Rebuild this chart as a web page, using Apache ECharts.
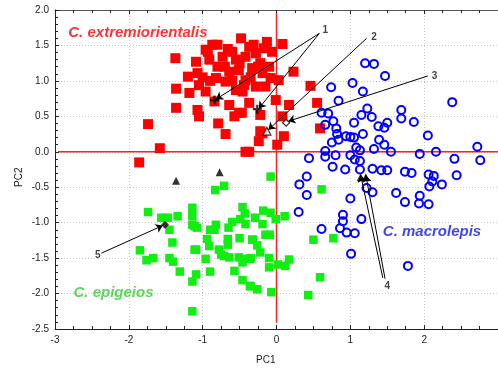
<!DOCTYPE html>
<html>
<head>
<meta charset="utf-8">
<script src="https://cdn.jsdelivr.net/npm/echarts@6/dist/echarts.min.js"></script>
<style>
  html, body { margin: 0; padding: 0; background: #fff; }
  #PcaChart { width: 498px; height: 369px; }
</style>
</head>
<body>
<div id="PcaChart"></div>
<script>
// C. extremiorientalis (red squares)
const redPoints = [
  [-1.37,1.32],[-1.36,0.89],[-1.36,0.62],[-1.74,0.39],[-1.58,0.05],[-1.86,-0.15],
  [-1.20,1.06],[-1.18,0.83],[-1.09,1.27],[-1.07,1.11],[-1.05,0.94],[-1.07,0.59],[-1.05,0.50],
  [-0.93,1.41],[-0.91,1.30],[-0.96,0.85],[-0.80,1.51],[-0.79,0.40],[-0.69,0.25],[-0.64,0.66],
  [-0.84,0.71],[-0.73,1.34],[-0.80,1.20],[-0.82,1.04],[-0.69,0.99],[-0.60,1.41],[-0.55,1.30],
  [-0.48,1.60],[-0.51,1.15],[-0.64,1.13],[-0.55,0.87],[-0.44,0.94],[-0.37,1.48],[-0.42,1.34],
  [-0.31,1.51],[-0.28,1.39],[-0.22,1.25],[-0.13,1.55],[-0.06,1.41],[0.08,1.52],[-0.17,1.46],
  [-0.33,1.18],[-0.19,1.11],[-0.10,1.20],[-0.08,1.04],[-0.42,1.01],[-0.28,0.92],[-0.15,0.92],
  [-0.46,0.85],[-0.37,0.69],[-0.51,0.55],[-0.57,0.50],[-0.22,0.52],[-0.01,0.73],[-0.22,0.29],
  [-0.24,0.15],[-0.37,0.00],[0.01,0.10],[0.10,0.22],[-0.87,1.51],[-0.96,1.44],[-0.47,0.55],
  [-0.42,0.00],[0.23,1.13],[0.03,1.01],[0.46,0.93],[0.55,0.69],[0.17,0.66],[0.08,0.50],
  [0.59,0.33],[-0.19,0.26],[-0.66,1.45],[-0.90,1.00],[-0.50,1.25],[-0.35,1.05],[-0.60,1.00],
  [-0.25,1.20],[-0.70,1.20],[-1.00,1.05]
];
// C. macrolepis (blue open circles)
const bluePoints = [
  [1.20,1.25],[1.32,1.24],[1.47,1.07],[0.74,0.91],[1.03,0.97],[1.17,0.85],[0.84,0.72],[2.38,0.70],
  [0.61,0.55],[0.70,0.54],[1.23,0.61],[1.15,0.52],[1.29,0.49],[1.69,0.59],[1.69,0.47],[1.86,0.42],
  [1.50,0.41],[1.38,0.36],[1.46,0.34],[0.77,0.43],[0.66,0.38],[0.81,0.33],[1.05,0.41],[0.82,0.25],
  [0.94,0.22],[1.00,0.21],[1.05,0.20],[1.17,0.25],[0.84,0.17],[0.75,0.13],[1.39,0.17],[1.46,0.10],
  [1.32,0.04],[1.08,0.06],[1.13,0.02],[1.55,0.00],[2.05,0.23],[1.94,-0.03],[2.16,0.00],[2.72,0.07],
  [2.76,-0.12],[2.41,-0.10],[0.66,0.01],[0.44,-0.09],[0.66,-0.07],[0.80,-0.05],[1.00,-0.05],[1.06,-0.11],
  [1.13,-0.13],[1.30,-0.24],[1.42,-0.26],[1.50,-0.26],[1.74,-0.28],[1.83,-0.30],[0.76,-0.21],[0.93,-0.25],
  [1.13,-0.25],[2.06,-0.32],[2.13,-0.34],[2.44,-0.33],[0.41,-0.35],[0.31,-0.46],[0.41,-0.61],[1.00,-0.66],
  [1.22,-0.51],[1.30,-0.57],[1.62,-0.58],[1.74,-0.71],[1.94,-0.62],[1.93,-0.73],[2.06,-0.74],[2.07,-0.49],
  [2.24,-0.46],[2.11,-0.42],[0.30,-0.85],[0.90,-0.89],[0.90,-0.98],[1.15,-0.95],[0.61,-1.09],[0.86,-1.08],
  [0.95,-1.14],[1.06,-1.15],[1.01,-1.44],[1.78,-1.61]
];
// C. epigeios (green squares)
const greenPoints = [
  [-1.74,-0.85],[-1.56,-0.93],[-1.47,-0.93],[-1.34,-0.91],[-1.45,-1.10],[-1.41,-1.28],[-1.85,-1.39],
  [-1.76,-1.53],[-1.67,-1.50],[-1.45,-1.50],[-1.40,-1.55],[-1.31,-1.69],[-1.14,-0.79],[-1.14,-0.91],
  [-1.14,-1.03],[-1.08,-1.07],[-1.09,-1.38],[-1.09,-1.73],[-1.14,-1.83],[-1.14,-2.25],[-0.96,-1.51],
  [-0.90,-1.69],[-0.83,-0.54],[-0.71,-0.48],[-0.82,-1.03],[-0.84,-1.10],[-0.08,-0.35],[-0.46,-0.78],
  [-0.43,-0.87],[-0.49,-0.95],[-0.29,-0.93],[-0.18,-0.83],[-0.08,-0.86],[-0.01,-0.95],[0.11,-0.91],
  [-0.19,-1.02],[-0.42,-1.02],[-0.60,-0.99],[-0.65,-1.07],[-0.94,-1.23],[-0.91,-1.33],[-0.66,-1.23],
  [-0.66,-1.31],[-0.50,-1.22],[-0.33,-1.24],[-0.26,-1.32],[-0.22,-1.42],[-0.15,-1.17],[-0.09,-1.17],
  [-0.78,-1.38],[-0.75,-1.45],[-0.71,-1.47],[-0.64,-1.49],[-0.51,-1.49],[-0.44,-1.51],[-0.36,-1.51],
  [-0.46,-1.56],[-0.10,-1.50],[-0.10,-1.63],[0.02,-1.59],[0.12,-1.61],[0.17,-1.52],[-0.57,-1.68],
  [-0.46,-1.81],[-0.36,-1.89],[-0.26,-1.94],[-0.07,-1.98],[-1.11,-1.38],[0.61,-0.53],[0.50,-1.24],
  [0.77,-1.22],[-0.32,-1.24],[-0.35,-1.50],[0.59,-1.77],[-0.35,-1.90],[0.43,-2.02],[-1.11,-1.05],
  [-0.90,-1.10]
];
// special samples
const blackTriangles = [[-1.36,-0.41],[-0.77,-0.29],[1.14,-0.36],[1.21,-0.36]];
const crossPoints = [[-0.84,0.73],[-0.26,0.60]];
const openTriangle = [[-0.13,0.29]];
const openDiamond = [[0.13,0.41]];
const blackDiamond = [[-1.51,-1.03]];

// arrows: [from, to]
const arrows = [
  [[0.58,1.67],[-0.82,0.74]],
  [[0.58,1.67],[-0.24,0.61]],
  [[1.22,1.60],[-0.11,0.31]],
  [[2.05,1.07],[0.16,0.43]],
  [[1.44,-1.78],[1.14,-0.33]],
  [[1.47,-1.79],[1.21,-0.33]],
  [[-2.37,-1.43],[-1.54,-1.04]]
];
const arrowLabels = [
  { name: "1", value: [0.66,1.71] },
  { name: "2", value: [1.32,1.61] },
  { name: "3", value: [2.14,1.07] },
  { name: "4", value: [1.50,-1.90] },
  { name: "5", value: [-2.42,-1.46] }
];
const groupLabels = [
  { name: "C. extremiorientalis", value: [-2.82,1.68], color: "#ff0000" },
  { name: "C. epigeios", value: [-2.75,-1.99], color: "#33cc33" },
  { name: "C. macrolepis", value: [1.44,-1.13], color: "#1414e6" }
];
const refLineV = [[0,-2.41],[0,1.96]];
const refLineH = [[-2.96,0],[3,0]];

const myChart = echarts.init(document.getElementById("PcaChart"));

const axisFont = { color: "#222", fontSize: 10, fontFamily: "Liberation Sans, Arial, sans-serif" };
const xBase = {
  type: "value",
  min: -3,
  max: 3,
  interval: 1,
  axisLine: { show: true, onZero: false, lineStyle: { color: "#222", width: 1 } },
  axisTick: { show: true, inside: true, length: 4, lineStyle: { color: "#222" } },
  minorTick: { show: true, splitNumber: 4, length: 3, lineStyle: { color: "#222" } },
  splitLine: { show: false }
};

const option = {
  animation: false,
  backgroundColor: "#fff",
  grid: { left: 55, right: -3, top: 10, bottom: 40, containLabel: false },
  xAxis: [
    Object.assign({}, xBase, {
      position: "bottom",
      axisLabel: Object.assign({ margin: 6, showMaxLabel: false }, axisFont),
      splitLine: { show: true, lineStyle: { color: "#c8c8c8", type: [1, 2], width: 1 } }
    }),
    Object.assign({}, xBase, {
      position: "top",
      axisLine: { show: true, onZero: false, lineStyle: { color: "#555", width: 1 } },
      axisLabel: { show: false }
    })
  ],
  yAxis: {
    type: "value",
    min: -2.5,
    max: 2,
    interval: 0.5,
    axisLine: { show: true, onZero: false, lineStyle: { color: "#222", width: 1 } },
    axisTick: { show: true, inside: true, length: 4, lineStyle: { color: "#222" } },
    minorTick: { show: true, splitNumber: 5, length: 3, lineStyle: { color: "#222" } },
    axisLabel: Object.assign({ margin: 6, formatter: (v) => v.toFixed(1) }, axisFont),
    splitLine: { show: true, lineStyle: { color: "#c8c8c8", type: [1, 2], width: 1 } }
  },
  graphic: [
    {
      type: "text",
      left: 256,
      top: 355,
      style: { text: "PC1", fill: "#222", font: "10px Liberation Sans, Arial, sans-serif" }
    },
    {
      type: "text",
      x: 14,
      y: 187,
      rotation: Math.PI / 2,
      style: { text: "PC2", fill: "#222", font: "10px Liberation Sans, Arial, sans-serif" }
    }
  ],
  series: [
    {
      type: "line",
      data: refLineV,
      symbol: "none",
      silent: true,
      z: 1,
      lineStyle: { color: "#ff2020", width: 1.5 }
    },
    {
      type: "line",
      data: refLineH,
      symbol: "none",
      silent: true,
      z: 1,
      lineStyle: { color: "#ff2020", width: 1.5 }
    },
    {
      name: "C. extremiorientalis",
      type: "scatter",
      data: redPoints,
      symbol: "rect",
      symbolSize: 10,
      itemStyle: { color: "#ff0000", opacity: 1 },
      z: 2
    },
    {
      name: "C. epigeios",
      type: "scatter",
      data: greenPoints,
      symbol: "rect",
      symbolSize: 8.5,
      itemStyle: { color: "#11ee11", opacity: 1 },
      z: 2
    },
    {
      name: "C. macrolepis",
      type: "scatter",
      data: bluePoints,
      symbol: "circle",
      symbolSize: 8,
      itemStyle: { color: "rgba(0,0,0,0)", borderColor: "#0000ff", borderWidth: 2, opacity: 1 },
      z: 3
    },
    {
      type: "scatter",
      data: blackTriangles,
      symbol: "triangle",
      symbolSize: 8,
      itemStyle: { color: "#000" },
      z: 5
    },
    {
      type: "scatter",
      data: crossPoints,
      symbol: "path://M3,0H5V3H8V5H5V8H3V5H0V3H3Z",
      symbolSize: 9,
      itemStyle: { color: "#000" },
      z: 5
    },
    {
      type: "scatter",
      data: openTriangle,
      symbol: "triangle",
      symbolSize: 8,
      itemStyle: { color: "#fff", borderColor: "#000", borderWidth: 1.2 },
      z: 5
    },
    {
      type: "scatter",
      data: openDiamond,
      symbol: "diamond",
      symbolSize: 7,
      itemStyle: { color: "#fff", borderColor: "#000", borderWidth: 1.2 },
      z: 5
    },
    {
      type: "scatter",
      data: blackDiamond,
      symbol: "diamond",
      symbolSize: 8,
      itemStyle: { color: "#000" },
      z: 5
    },
    {
      type: "scatter",
      data: [],
      z: 6,
      markLine: {
        silent: true,
        animation: false,
        symbol: ["none", "arrow"],
        symbolSize: 7,
        label: { show: false },
        lineStyle: { color: "#000", width: 1, type: "solid" },
        data: arrows.map((a) => [{ coord: a[0] }, { coord: a[1] }])
      }
    },
    {
      type: "scatter",
      data: arrowLabels,
      symbolSize: 0,
      z: 7,
      label: {
        show: true,
        position: "inside",
        formatter: "{b}",
        color: "#111",
        fontSize: 10,
        fontWeight: "bold",
        fontFamily: "Liberation Sans, Arial, sans-serif"
      }
    },
    {
      type: "scatter",
      data: groupLabels.map((g) => ({
        name: g.name,
        value: g.value,
        label: { color: g.color }
      })),
      symbolSize: 0,
      z: 7,
      label: {
        show: true,
        position: "right",
        distance: 0,
        formatter: "{b}",
        fontSize: 15,
        fontWeight: "bold",
        fontStyle: "italic",
        fontFamily: "Liberation Sans, Arial, sans-serif"
      }
    }
  ]
};
myChart.setOption(option);
</script>
</body>
</html>
